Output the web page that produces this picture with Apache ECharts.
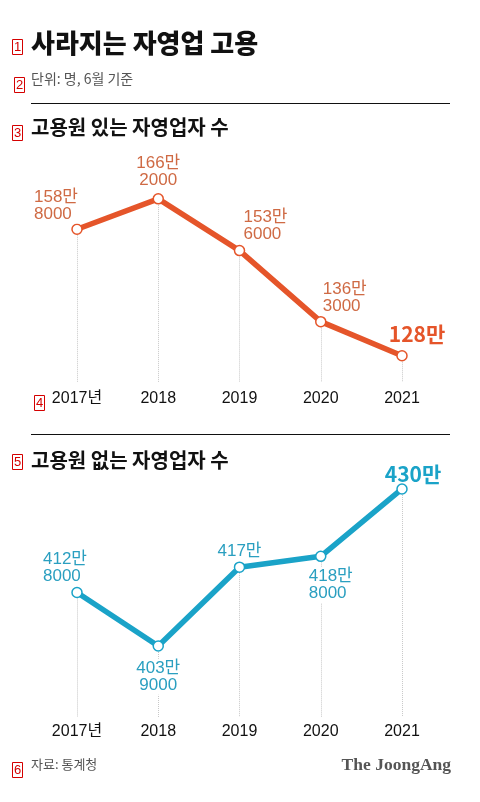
<!DOCTYPE html>
<html>
<head>
<meta charset="utf-8">
<script src="https://cdn.jsdelivr.net/npm/echarts@6/dist/echarts.min.js"></script>
<style>
html,body{margin:0;padding:0;background:#fff;}
#chart{width:480px;height:802px;}
</style>
</head>
<body>
<div id="chart"></div>
<script>
// ---- data ----
const years = ['2017년', '2018', '2019', '2020', '2021'];
const withEmployees = [1588000, 1662000, 1536000, 1363000, 1280000];
const withoutEmployees = [4128000, 4039000, 4170000, 4188000, 4300000];
const titleText = '사라지는 자영업 고용';
const unitText = '단위: 명, 6월 기준';
const topTitle = '고용원 있는 자영업자 수';
const bottomTitle = '고용원 없는 자영업자 수';
const sourceText = '자료: 통계청';
const brandText = 'The JoongAng';

// ---- styling ----
const KR = '"Noto Sans CJK KR", "Noto Sans", sans-serif';
const NUM = '"Liberation Sans", "Noto Sans CJK KR", sans-serif';
const ORANGE = '#e5552a', ORANGE_T = '#cf6a44';
const BLUE = '#1aa3c8', BLUE_T = '#2a9fc0';
const topMin = 1216000, topMax = 1781000;
const botMin = 3921000, botMax = 4331500;

function fmt(v) {
  const man = Math.floor(v / 10000), rest = v % 10000;
  return rest ? man + '만\n' + rest : man + '만';
}
// label placement per point: [position, align, dx, dy, big]
const topPlace = [
  ['top', 'left', -44, 5, false],
  ['top', 'center', 0, 2, false],
  ['top', 'left', 3, 4, false],
  ['top', 'left', 1, 5, false],
  ['top', 'center', 15, -1, true]
];
const botPlace = [
  ['top', 'left', -35, 4, false],
  ['bottom', 'center', 0, 2, false],
  ['top', 'center', 0, 4, false],
  ['bottom', 'left', -13, 0, false],
  ['top', 'center', 11, 5, true]
];
function buildData(vals, place, txtColor, boldColor) {
  return vals.map((v, i) => {
    const p = place[i];
    return {
      value: v,
      label: {
        show: true,
        position: p[0],
        align: p[1],
        offset: [p[2], p[3]],
        formatter: fmt(v),
        fontFamily: p[4] ? KR : NUM,
        fontSize: p[4] ? 21 : 17,
        fontWeight: p[4] ? 'bold' : 'normal',
        lineHeight: 17,
        color: p[4] ? boldColor : txtColor,
        backgroundColor: p[4] ? 'transparent' : '#fff',
        padding: [1, 1, 1, 1]
      }
    };
  });
}
function dropLines(vals, min) {
  return vals.map((v, i) => [{ coord: [i, v] }, { coord: [i, min] }]);
}
function redBox(n, x, y) {
  return {
    type: 'group', left: x, top: y,
    children: [
      { type: 'rect', shape: { x: 0, y: 0, width: 10, height: 15 }, style: { fill: 'none', stroke: '#d40000', lineWidth: 1 } },
      { type: 'text', x: 5, y: 8, style: { text: String(n), fill: '#d40000', font: '13px ' + NUM, align: 'center', verticalAlign: 'middle' } }
    ]
  };
}

const chart = echarts.init(document.getElementById('chart'), null, { renderer: 'canvas' });
const axisX = (gi, margin) => ({
  type: 'category', gridIndex: gi, data: years, boundaryGap: false,
  axisLine: { show: false }, axisTick: { show: false }, splitLine: { show: false },
  axisLabel: { margin: margin, fontFamily: NUM, fontSize: 16, color: '#111' }
});
const lineSeries = (gi, vals, place, color, txt, min) => ({
  type: 'line', xAxisIndex: gi, yAxisIndex: gi,
  data: buildData(vals, place, txt, color),
  symbol: 'circle', symbolSize: 10,
  lineStyle: { color: color, width: 5.5 },
  itemStyle: { color: '#fff', borderColor: color, borderWidth: 1.5 },
  emphasis: { disabled: true },
  z: 3,
  markLine: {
    silent: true, symbol: 'none', animation: false,
    label: { show: false },
    lineStyle: { color: '#c8c8c8', type: 'dotted', width: 1 },
    data: dropLines(vals, min),
    z: 1
  }
});

chart.setOption({
  animation: false,
  backgroundColor: '#fff',
  grid: [
    { left: 77, right: 78, top: 150, height: 232 },
    { left: 77, right: 78, top: 470, height: 247 }
  ],
  xAxis: [axisX(0, 9), axisX(1, 7)],
  yAxis: [
    { type: 'value', gridIndex: 0, min: topMin, max: topMax, show: false },
    { type: 'value', gridIndex: 1, min: botMin, max: botMax, show: false }
  ],
  series: [
    lineSeries(0, withEmployees, topPlace, ORANGE, ORANGE_T, topMin),
    lineSeries(1, withoutEmployees, botPlace, BLUE, BLUE_T, botMin)
  ],
  graphic: [
    { type: 'text', left: 31, top: 30, style: { text: titleText, font: '900 26px ' + KR, fill: '#111' } },
    { type: 'text', left: 31, top: 72, style: { text: unitText, font: '14px ' + KR, fill: '#555' } },
    { type: 'line', shape: { x1: 31, y1: 103.5, x2: 450, y2: 103.5 }, style: { stroke: '#111', lineWidth: 1 } },
    { type: 'text', left: 31, top: 117, style: { text: topTitle, font: 'bold 20px ' + KR, fill: '#111' } },
    { type: 'line', shape: { x1: 31, y1: 434.5, x2: 450, y2: 434.5 }, style: { stroke: '#111', lineWidth: 1 } },
    { type: 'text', left: 31, top: 450, style: { text: bottomTitle, font: 'bold 20px ' + KR, fill: '#111' } },
    { type: 'text', left: 31, top: 758, style: { text: sourceText, font: '13px ' + KR, fill: '#555' } },
    { type: 'text', right: 29, top: 756, style: { text: brandText, font: 'bold 17.5px "Liberation Serif", serif', fill: '#555' } },
    redBox(1, 10, 37),
    redBox(2, 12, 75),
    redBox(3, 10, 123),
    redBox(4, 32, 393),
    redBox(5, 10, 452),
    redBox(6, 10, 760)
  ]
});
</script>
</body>
</html>
